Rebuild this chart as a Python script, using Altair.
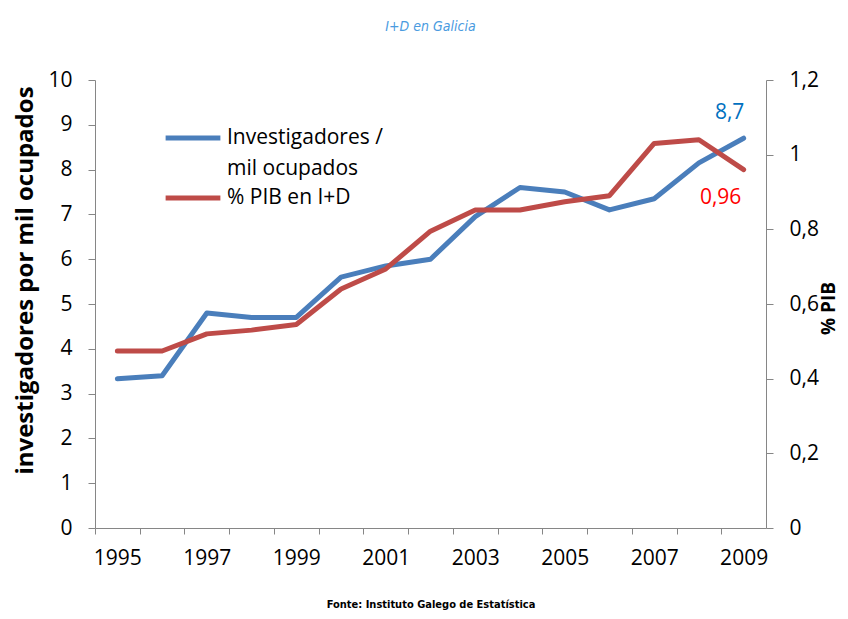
import altair as alt
import pandas as pd

years = list(range(1995, 2010))
investigadores = [3.33, 3.4, 4.8, 4.7, 4.7, 5.6, 5.85, 6.0, 6.95, 7.6, 7.5, 7.1, 7.35, 8.15, 8.7]
pib = [0.474, 0.474, 0.52, 0.53, 0.545, 0.64, 0.694, 0.795, 0.852, 0.852, 0.874, 0.89, 1.03, 1.04, 0.96]
series_names = ["Investigadores / mil ocupados", "% PIB en I+D"]
line_colors = ["#4A7EBB", "#BE4B48"]
label_colors = ["#0070C0", "#FF0000"]
left_ticks = list(range(0, 11))
right_ticks = [0, 0.2, 0.4, 0.6, 0.8, 1.0, 1.2]
x_ticks = years + [2010]

df_inv = pd.DataFrame({"year": years, "value": investigadores, "series": series_names[0]})
df_pib = pd.DataFrame({"year": years, "value": pib, "series": series_names[1]})

W, H = 671, 448
half = W / len(years) / 2
FONT = "Open Sans"
FS = 21
NARROW = "DejaVu Sans Condensed"

x_enc = alt.X(
    "year:Q",
    scale=alt.Scale(domain=[1994.5, 2009.5], nice=False, zero=False),
    axis=alt.Axis(
        values=x_ticks,
        format="d",
        labelExpr="datum.value % 2 == 1 && datum.value < 2010 ? datum.label : ''",
        tickOffset=-half,
        labelOffset=half,
        labelFlush=False,
        labelOverlap=False,
        tickSize=6,
        labelPadding=13,
        labelFontSize=FS,
        grid=False,
        title="Fonte: Instituto Galego de Estatística",
        titleFont=NARROW,
        titleFontSize=11,
        titleFontWeight="bold",
        titlePadding=30,
    ),
)


def legend(y):
    return alt.Legend(
        title=None,
        orient="none",
        legendX=68,
        legendY=y,
        symbolType="stroke",
        symbolStrokeWidth=5,
        symbolSize=3000,
        labelFontSize=FS,
        labelFont=FONT,
        labelLimit=400,
        labelOffset=4,
        labelBaseline="middle",
        labelExpr="datum.label == 'Investigadores / mil ocupados' ? ['Investigadores /', 'mil ocupados'] : datum.label",
    )


label_calc = "replace(format(datum.value, '.2~f'), '.', ',')"

inv_line = alt.Chart(df_inv).mark_line(strokeWidth=5, strokeCap="round", strokeJoin="round").encode(
    x=x_enc,
    y=alt.Y(
        "value:Q",
        scale=alt.Scale(domain=[0, 10], nice=False),
        axis=alt.Axis(
            values=left_ticks,
            orient="left",
            tickSize=7,
            labelPadding=16,
            labelFontSize=FS,
            grid=False,
            title="investigadores por mil ocupados",
            titleFontSize=24,
            titleFontWeight="bold",
            titlePadding=10,
            titleY=200,
        ),
    ),
    color=alt.Color(
        "series:N",
        scale=alt.Scale(domain=[series_names[0]], range=[line_colors[0]]),
        legend=legend(28),
    ),
)
inv_text = alt.Chart(df_inv).transform_filter("datum.year == 2009").transform_calculate(
    lab=label_calc
).mark_text(fontSize=FS, font=FONT, color=label_colors[0], dx=-14, dy=-25).encode(
    x=x_enc, y=alt.Y("value:Q"), text="lab:N"
)

pib_line = alt.Chart(df_pib).mark_line(strokeWidth=5, strokeCap="round", strokeJoin="round").encode(
    x=x_enc,
    y=alt.Y(
        "value:Q",
        scale=alt.Scale(domain=[0, 1.2], nice=False),
        axis=alt.Axis(
            values=right_ticks,
            orient="right",
            tickSize=7,
            labelPadding=16,
            labelFontSize=FS,
            labelExpr="replace(format(datum.value, '~g'), '.', ',')",
            grid=False,
            title="% PIB",
            titleFontSize=19,
            titleFontWeight="bold",
            titleAngle=270,
            titleBaseline="top",
            titlePadding=1,
            titleY=228,
        ),
    ),
    stroke=alt.Stroke(
        "series:N",
        scale=alt.Scale(domain=[series_names[1]], range=[line_colors[1]]),
        legend=legend(88),
    ),
)
pib_text = alt.Chart(df_pib).transform_filter("datum.year == 2009").transform_calculate(
    lab=label_calc
).mark_text(fontSize=FS, font=FONT, color=label_colors[1], dx=-23, dy=28).encode(
    x=x_enc, y=alt.Y("value:Q"), text="lab:N"
)

left = alt.layer(inv_line, inv_text)
right = alt.layer(pib_line, pib_text)

chart = (
    alt.layer(left, right)
    .resolve_scale(y="independent")
    .properties(
        width=W,
        height=H,
        padding={"left": 87, "top": 72, "right": 74, "bottom": 83},
        autosize=alt.AutoSizeParams(type="none"),
        title=alt.TitleParams(
            "I+D en Galicia",
            font=NARROW,
            fontSize=14,
            fontStyle="italic",
            fontWeight="normal",
            color="#4A9BDF",
            offset=35,
        ),
    )
    .configure(style={"guide-label": {"lineHeight": 31}})
    .configure_view(stroke=None)
    .configure_axis(
        domainColor="#868686",
        tickColor="#868686",
        labelColor="#000000",
        titleColor="#000000",
        labelFont=FONT,
        titleFont=FONT,
    )
)

chart.save("out.html", embed_options={"renderer": "svg", "actions": False})
